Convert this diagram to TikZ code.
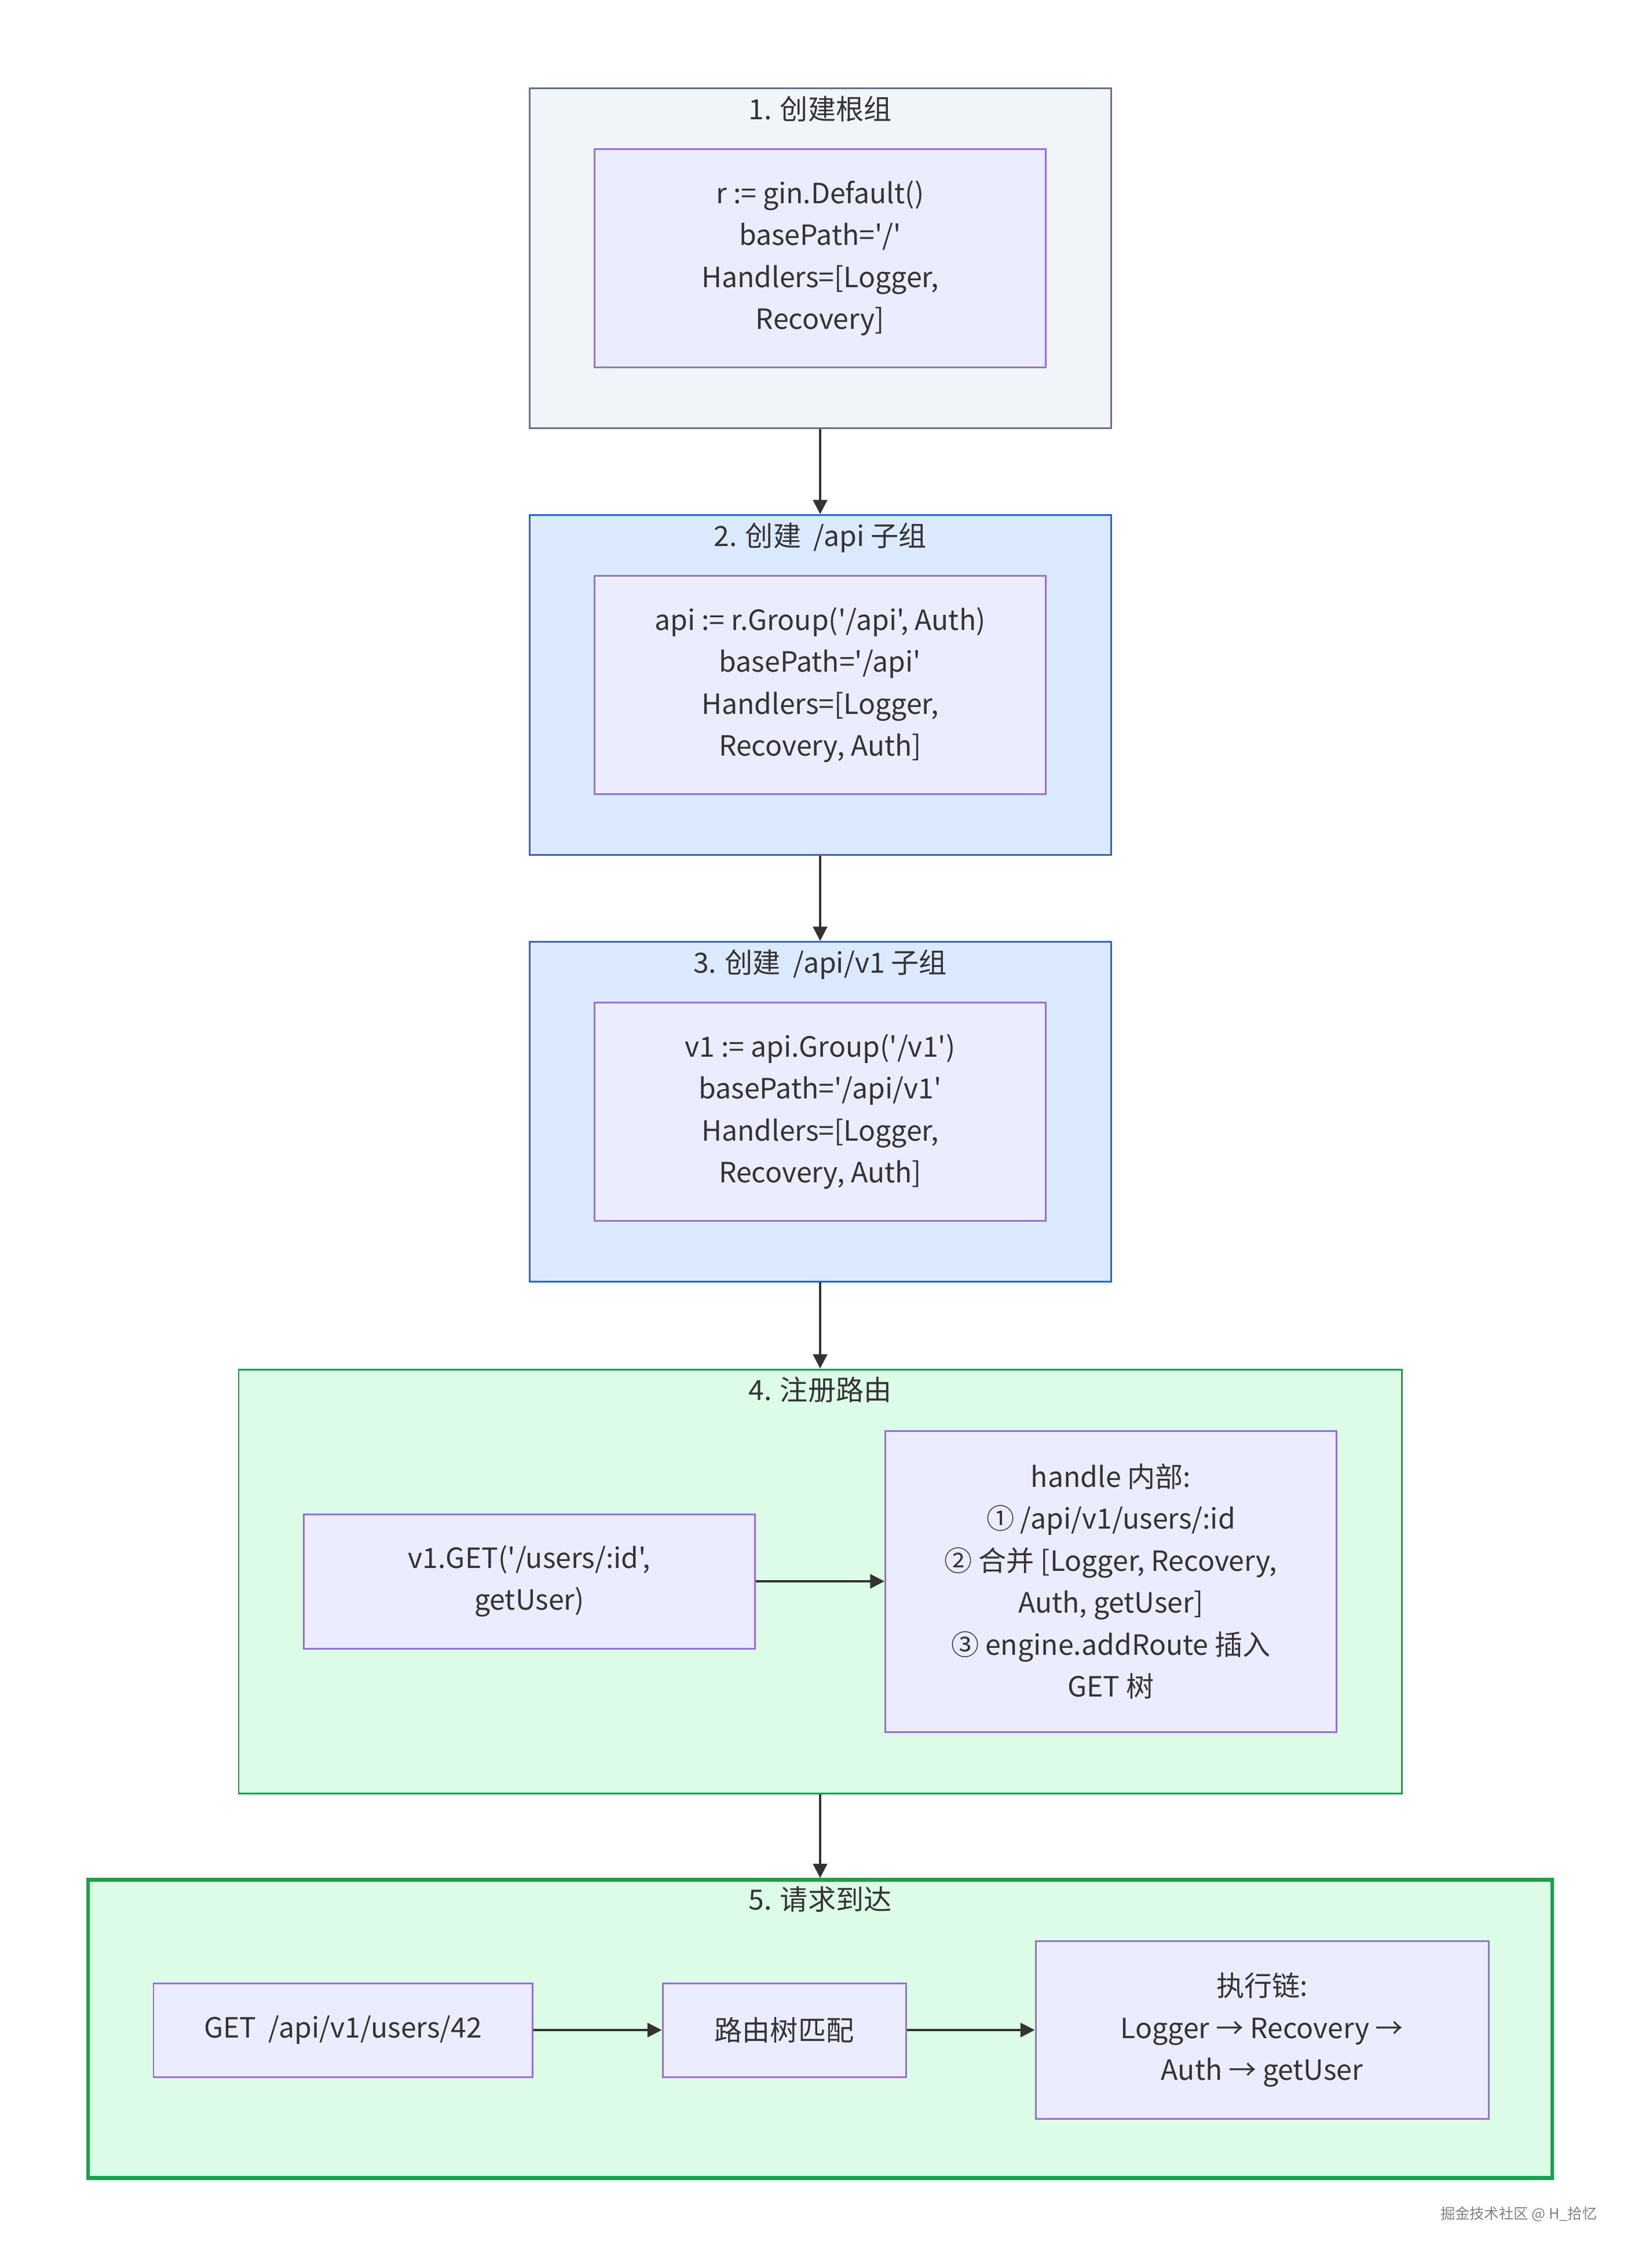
\documentclass[tikz,border=0pt]{standalone}
\usepackage{fontspec}
\setmainfont{Noto Sans CJK SC}[Ligatures=TeXOff]
\usetikzlibrary{arrows.meta,positioning}

\definecolor{txt}{HTML}{333333}
\definecolor{rootfill}{HTML}{F1F5F9}
\definecolor{rootline}{HTML}{64748B}
\definecolor{subfill}{HTML}{DBEAFE}
\definecolor{subline}{HTML}{2563EB}
\definecolor{regfill}{HTML}{DCFCE7}
\definecolor{regline}{HTML}{16A34A}
\definecolor{codefill}{HTML}{ECECFF}
\definecolor{codeline}{HTML}{9370DB}

\begin{document}
\begin{tikzpicture}[
    font=\fontsize{13.7}{20.6}\selectfont,
    every node/.style={text=txt},
    grp/.style 2 args={draw=#1, fill=#2, line width=0.85pt},
    code/.style={draw=codeline, fill=codefill, line width=0.85pt, align=center},
    title/.style={inner sep=0pt},
    arr/.style={-{Triangle[length=7pt,width=7pt]}, line width=0.9pt, draw=txt}]

    % 0. Page size (white background)
    \path[fill=white, use as bounding box] (0,0) rectangle (28.35,-39.17);

    % 1. Root group
    \node[grp={rootline}{rootfill}, minimum width=10.04cm, minimum height=5.87cm] (g1) at (14.16,-4.46) {};
    \node[title, below=0.14cm of g1.north] (t1) {1. 创建根组};
    \node[code, minimum width=7.79cm, minimum height=3.77cm] (c1) at (14.16,-4.46)
        {r := gin.Default()\\ basePath='/'\\ Handlers=[Logger,\\ Recovery]};

    % 2. /api group
    \node[grp={subline}{subfill}, minimum width=10.04cm, minimum height=5.87cm] (g2) at (14.16,-11.83) {};
    \node[title, below=0.14cm of g2.north] (t2) {2. 创建 \ /api 子组};
    \node[code, minimum width=7.79cm, minimum height=3.77cm] (c2) at (14.16,-11.83)
        {api := r.Group('/api', Auth)\\ basePath='/api'\\ Handlers=[Logger,\\ Recovery, Auth]};

    % 3. /api/v1 group
    \node[grp={subline}{subfill}, minimum width=10.04cm, minimum height=5.87cm] (g3) at (14.16,-19.20) {};
    \node[title, below=0.14cm of g3.north] (t3) {3. 创建 \ /api/v1 子组};
    \node[code, minimum width=7.79cm, minimum height=3.77cm] (c3) at (14.16,-19.20)
        {v1 := api.Group('/v1')\\ basePath='/api/v1'\\ Handlers=[Logger,\\ Recovery, Auth]};

    % 4. Route registration
    \node[grp={regline}{regfill}, minimum width=20.08cm, minimum height=7.32cm] (g4) at (14.16,-27.31) {};
    \node[title, below=0.14cm of g4.north] (t4) {4. 注册路由};
    \node[code, minimum width=7.79cm, minimum height=2.32cm] (reg) at (9.14,-27.31)
        {v1.GET('/users/:id',\\ getUser)};
    \node[code, minimum width=7.79cm, minimum height=5.20cm] (handle) at (19.18,-27.31)
        {handle 内部:\\ ① /api/v1/users/:id\\ ② 合并 [Logger, Recovery,\\ Auth, getUser]\\ ③ engine.addRoute 插入\\ GET 树};

    % 5. Request arrives
    \node[grp={regline}{regfill}, line width=1.8pt, minimum width=25.28cm, minimum height=5.15cm] (g5) at (14.16,-35.04) {};
    \node[title, below=0.14cm of g5.north] (t5) {5. 请求到达};
    \node[code, minimum width=6.54cm, minimum height=1.62cm] (req) at (5.92,-35.06) {GET \ /api/v1/users/42};
    \node[code, minimum width=4.20cm, minimum height=1.62cm] (match) at (13.54,-35.06) {路由树匹配};
    \node[code, minimum width=7.82cm, minimum height=3.07cm] (chain) at (21.79,-35.06)
        {执行链:\\ Logger → Recovery →\\ Auth → getUser};

    % 6. Connectors
    \draw[arr] (g1) -- (g2);
    \draw[arr] (g2) -- (g3);
    \draw[arr] (g3) -- (g4);
    \draw[arr] (g4) -- (g5);
    \draw[arr] (reg) -- (handle);
    \draw[arr] (req) -- (match);
    \draw[arr] (match) -- (chain);

    % 7. Watermark
    \node[anchor=east, inner sep=0pt, text=gray, font=\fontsize{7.2}{9}\selectfont] (mark) at (27.58,-38.24) {掘金技术社区 @ H\_拾忆};

\end{tikzpicture}
\end{document}
